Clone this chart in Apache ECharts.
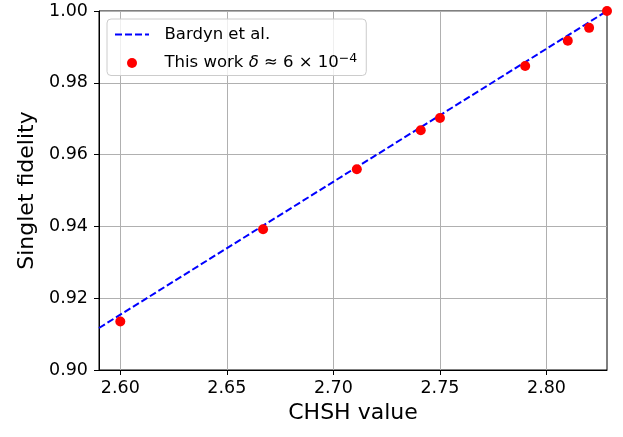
<!DOCTYPE html>
<html>
<head>
<meta charset="utf-8">
<script src="https://cdn.jsdelivr.net/npm/echarts@6/dist/echarts.min.js"></script>
<style>
html,body{margin:0;padding:0;background:#fff;}
#chart{width:623px;height:437px;}
</style>
</head>
<body>
<div id="chart"></div>
<script>
// Data
const chshValues = [2.600, 2.667, 2.711, 2.741, 2.750, 2.790, 2.810, 2.820, 2.8284];
const fidelityValues = [0.9135, 0.9392, 0.9559, 0.9668, 0.9702, 0.9847, 0.9917, 0.9953, 1.000];
const bardynX = [2.59, 2.8284];
const bardynY = [0.9117, 1.000];
const xTickValues = [2.60, 2.65, 2.70, 2.75, 2.80];
const yTickValues = [0.90, 0.92, 0.94, 0.96, 0.98, 1.00];
const seriesNames = ['Bardyn et al.', 'This work'];

const FONT = 'DejaVu Sans';
const chart = echarts.init(document.getElementById('chart'), null, {renderer: 'canvas'});

const option = {
  animation: false,
  backgroundColor: '#ffffff',
  grid: {
    left: 99, top: 11, right: 16, bottom: 67,
    show: true, borderColor: '#000000', borderWidth: 1, backgroundColor: 'transparent'
  },
  legend: {
    show: true,
    left: 107, top: 19,
    orient: 'vertical',
    padding: [7, 9, 4, 7],
    itemGap: 9,
    itemWidth: 34,
    itemHeight: 10,
    backgroundColor: 'rgba(255,255,255,0.8)',
    borderColor: '#cccccc',
    borderWidth: 1,
    borderRadius: 4,
    data: [
      {name: seriesNames[0], itemStyle: {opacity: 0}},
      {name: seriesNames[1]}
    ],
    textStyle: {
      fontFamily: FONT, fontSize: 16.5, color: '#000',
      rich: {
        n: {fontFamily: FONT, fontSize: 16.5, color: '#000'},
        i: {fontFamily: FONT, fontSize: 16.5, fontStyle: 'italic', color: '#000'},
        s: {fontFamily: FONT, fontSize: 12.5, color: '#000', padding: [0, 0, 9, 0]}
      }
    },
    formatter: function (name) {
      if (name === seriesNames[1]) return '  {n|This work }{i|δ}{n| ≈ 6 × 10}{s|−4}';
      return '  ' + name;
    }
  },
  xAxis: {
    type: 'value',
    min: bardynX[0],
    max: bardynX[1],
    name: 'CHSH value',
    nameLocation: 'middle',
    nameGap: 32,
    nameTextStyle: {fontFamily: FONT, fontSize: 22, color: '#000'},
    axisLine: {show: true, onZero: false, lineStyle: {color: '#000', width: 1}},
    axisTick: {show: true, inside: false, length: 5, lineStyle: {color: '#000'}, customValues: xTickValues},
    axisLabel: {
      customValues: xTickValues,
      margin: 9,
      fontFamily: FONT, fontSize: 17.5, color: '#000',
      formatter: v => v.toFixed(2)
    },
    splitLine: {show: true, lineStyle: {color: '#b0b0b0', width: 1}}
  },
  yAxis: {
    type: 'value',
    min: 0.90,
    max: 1.00,
    interval: 0.02,
    name: 'Singlet fidelity',
    nameLocation: 'middle',
    nameGap: 61,
    nameTextStyle: {fontFamily: FONT, fontSize: 22, color: '#000'},
    axisLine: {show: true, onZero: false, lineStyle: {color: '#000', width: 1}},
    axisTick: {show: true, inside: false, length: 5, lineStyle: {color: '#000'}},
    axisLabel: {
      margin: 11,
      fontFamily: FONT, fontSize: 17.5, color: '#000',
      formatter: v => v.toFixed(2)
    },
    splitLine: {show: true, lineStyle: {color: '#b0b0b0', width: 1}}
  },
  series: [
    {
      name: seriesNames[0],
      type: 'line',
      data: bardynX.map((x, i) => [x, bardynY[i]]),
      symbol: 'none',
      lineStyle: {color: '#0000ff', width: 2, type: [7, 3]},
      itemStyle: {color: '#0000ff'},
      z: 2
    },
    {
      name: seriesNames[1],
      type: 'scatter',
      data: chshValues.map((x, i) => [x, fidelityValues[i]]),
      symbol: 'circle',
      symbolSize: 10,
      itemStyle: {color: '#ff0000', opacity: 1},
      clip: true,
      z: 3
    }
  ]
};
chart.setOption(option);
</script>
</body>
</html>
